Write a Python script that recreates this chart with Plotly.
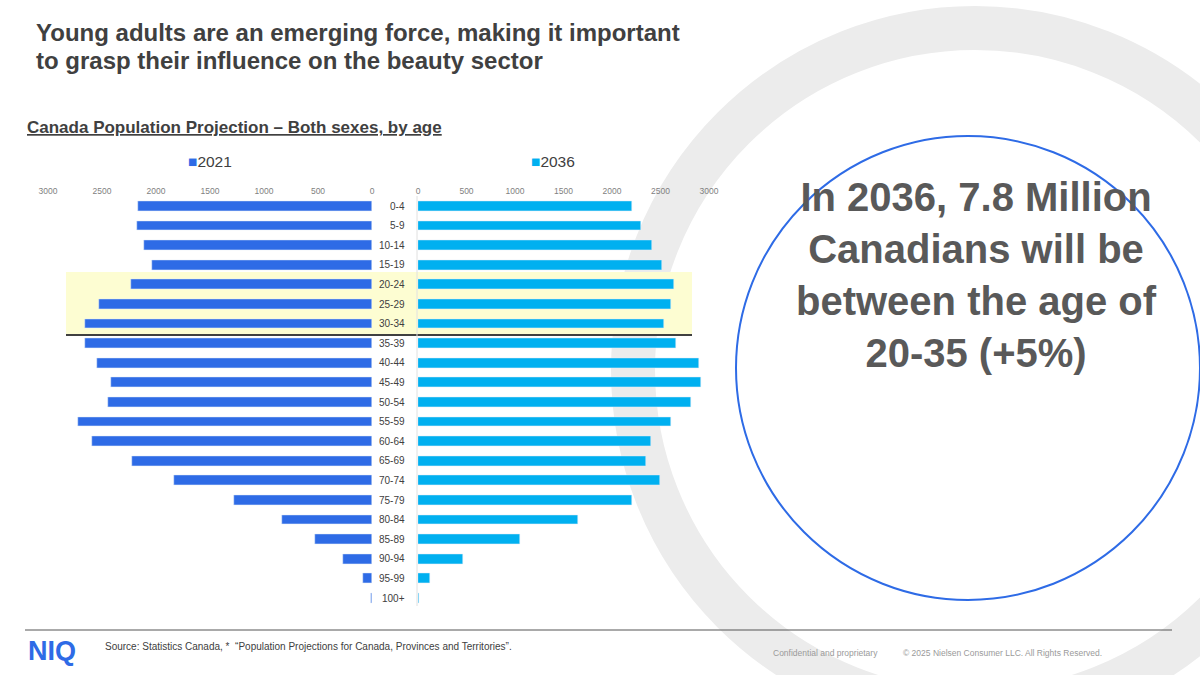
import plotly.graph_objects as go

ages = ["0-4","5-9","10-14","15-19","20-24","25-29","30-34","35-39","40-44","45-49","50-54",
        "55-59","60-64","65-69","70-74","75-79","80-84","85-89","90-94","95-99","100+"]
pop_2021 = [2166,2174,2108,2033,2232,2527,2660,2660,2548,2415,2444,2722,2593,2220,1838,1282,838,531,270,83,12]
pop_2036 = [2202,2298,2408,2514,2638,2606,2541,2656,2894,2922,2812,2606,2399,2349,2491,2202,1651,1055,468,128,14]
ticks = [0,500,1000,1500,2000,2500,3000]

W, H = 1200, 675
def px(x): return x / W
def py(y): return 1 - y / H

C1, C2 = "#2e6be6", "#00b0f0"
fig = go.Figure()
fig.add_trace(go.Bar(y=ages, x=pop_2021, orientation="h", marker_color=C1, width=0.5,
                     xaxis="x", yaxis="y", showlegend=False))
fig.add_trace(go.Bar(y=ages, x=pop_2036, orientation="h", marker_color=C2, width=0.5,
                     xaxis="x2", yaxis="y", showlegend=False))

ydom = [py(607.8), py(196.2)]
axcommon = dict(side="top", tickvals=ticks, ticktext=[str(t) for t in ticks], showgrid=False,
                zeroline=False, showline=False, tickfont=dict(size=8.5, color="#7f7f7f", family="Arial"),
                ticks="", anchor="y")
fig.update_layout(
    width=W, height=H, margin=dict(l=0, r=0, t=0, b=0, autoexpand=False),
    paper_bgcolor="white", plot_bgcolor="rgba(0,0,0,0)", bargap=0,
    xaxis=dict(domain=[px(48), px(372)], range=[3000, 0], **axcommon),
    xaxis2=dict(domain=[px(418), px(709)], range=[0, 3000], **axcommon),
    yaxis=dict(domain=ydom, categoryorder="array", categoryarray=ages, range=[20.5, -0.5],
               showticklabels=False, showgrid=False, zeroline=False, showline=False),
    font=dict(family="Arial"),
)

shapes = [
    dict(type="circle", xref="paper", yref="paper", layer="below",
         x0=px(975-342), x1=px(975+342), y0=py(370+342), y1=py(370-342),
         line=dict(color="#ececec", width=44)),
    dict(type="circle", xref="paper", yref="paper", layer="below",
         x0=px(736), x1=px(1200), y0=py(600), y1=py(136), fillcolor="white",
         line=dict(color="#2e6be6", width=2)),
    dict(type="rect", xref="paper", yref="paper", layer="below",
         x0=px(66), x1=px(692), y0=py(334), y1=py(272), fillcolor="#fdfdd2", line_width=0),
    dict(type="line", xref="paper", yref="paper", x0=px(66), x1=px(692), y0=py(335), y1=py(335),
         line=dict(color="#404040", width=2)),
    dict(type="line", xref="paper", yref="paper", x0=px(417), x1=px(417), y0=py(606), y1=py(196),
         line=dict(color="#e0e0e0", width=1)),
    dict(type="line", xref="paper", yref="paper", x0=px(25), x1=px(1172), y0=py(630), y1=py(630),
         line=dict(color="#555555", width=1)),
]
fig.update_layout(shapes=shapes)

ann = []
for a in ages:
    ann.append(dict(x=px(407), y=a, xref="paper", yref="y", text=a, showarrow=False,
                    xanchor="right", font=dict(size=10, color="#404040")))
ann += [
    dict(x=px(34), y=py(32), xref="paper", yref="paper", xanchor="left", yanchor="middle",
         text="<b>Young adults are an emerging force, making it important</b>", showarrow=False,
         font=dict(size=24, color="#404040")),
    dict(x=px(34), y=py(60), xref="paper", yref="paper", xanchor="left", yanchor="middle",
         text="<b>to grasp their influence on the beauty sector</b>", showarrow=False,
         font=dict(size=24, color="#404040")),
    dict(x=px(25), y=py(127), xref="paper", yref="paper", xanchor="left", yanchor="middle",
         text="<b><u>Canada Population Projection – Both sexes, by age</u></b>", showarrow=False,
         font=dict(size=17, color="#404040")),
    dict(x=px(186), y=py(161), xref="paper", yref="paper", xanchor="left", yanchor="middle",
         text=f"<span style='color:{C1}'>■</span>2021", showarrow=False,
         font=dict(size=15.5, color="#404040")),
    dict(x=px(529), y=py(161), xref="paper", yref="paper", xanchor="left", yanchor="middle",
         text=f"<span style='color:{C2}'>■</span>2036", showarrow=False,
         font=dict(size=15.5, color="#404040")),
    dict(x=px(976), y=py(275), xref="paper", yref="paper", xanchor="center", yanchor="middle",
         text="<b>In 2036, 7.8 Million<br>Canadians will be<br>between the age of<br>20-35 (+5%)</b>",
         showarrow=False, font=dict(size=40, color="#595959"), align="center"),
    dict(x=px(26), y=py(651), xref="paper", yref="paper", xanchor="left", yanchor="middle",
         text="<b>NIQ</b>", showarrow=False, font=dict(size=27, color="#2e6be6")),
    dict(x=px(103), y=py(646), xref="paper", yref="paper", xanchor="left", yanchor="middle",
         text="Source: Statistics Canada, *  “Population Projections for Canada, Provinces and Territories”.",
         showarrow=False, font=dict(size=10, color="#404040")),
    dict(x=px(771), y=py(653), xref="paper", yref="paper", xanchor="left", yanchor="middle",
         text="Confidential and proprietary", showarrow=False, font=dict(size=8.5, color="#9a9a9a")),
    dict(x=px(901), y=py(653), xref="paper", yref="paper", xanchor="left", yanchor="middle",
         text="© 2025 Nielsen Consumer LLC. All Rights Reserved.", showarrow=False,
         font=dict(size=8.5, color="#9a9a9a")),
]
fig.update_layout(annotations=ann)
fig.write_html("out.html", config={"displayModeBar": False},
               post_script="document.body.style.margin='0';document.body.style.overflow='hidden';")
